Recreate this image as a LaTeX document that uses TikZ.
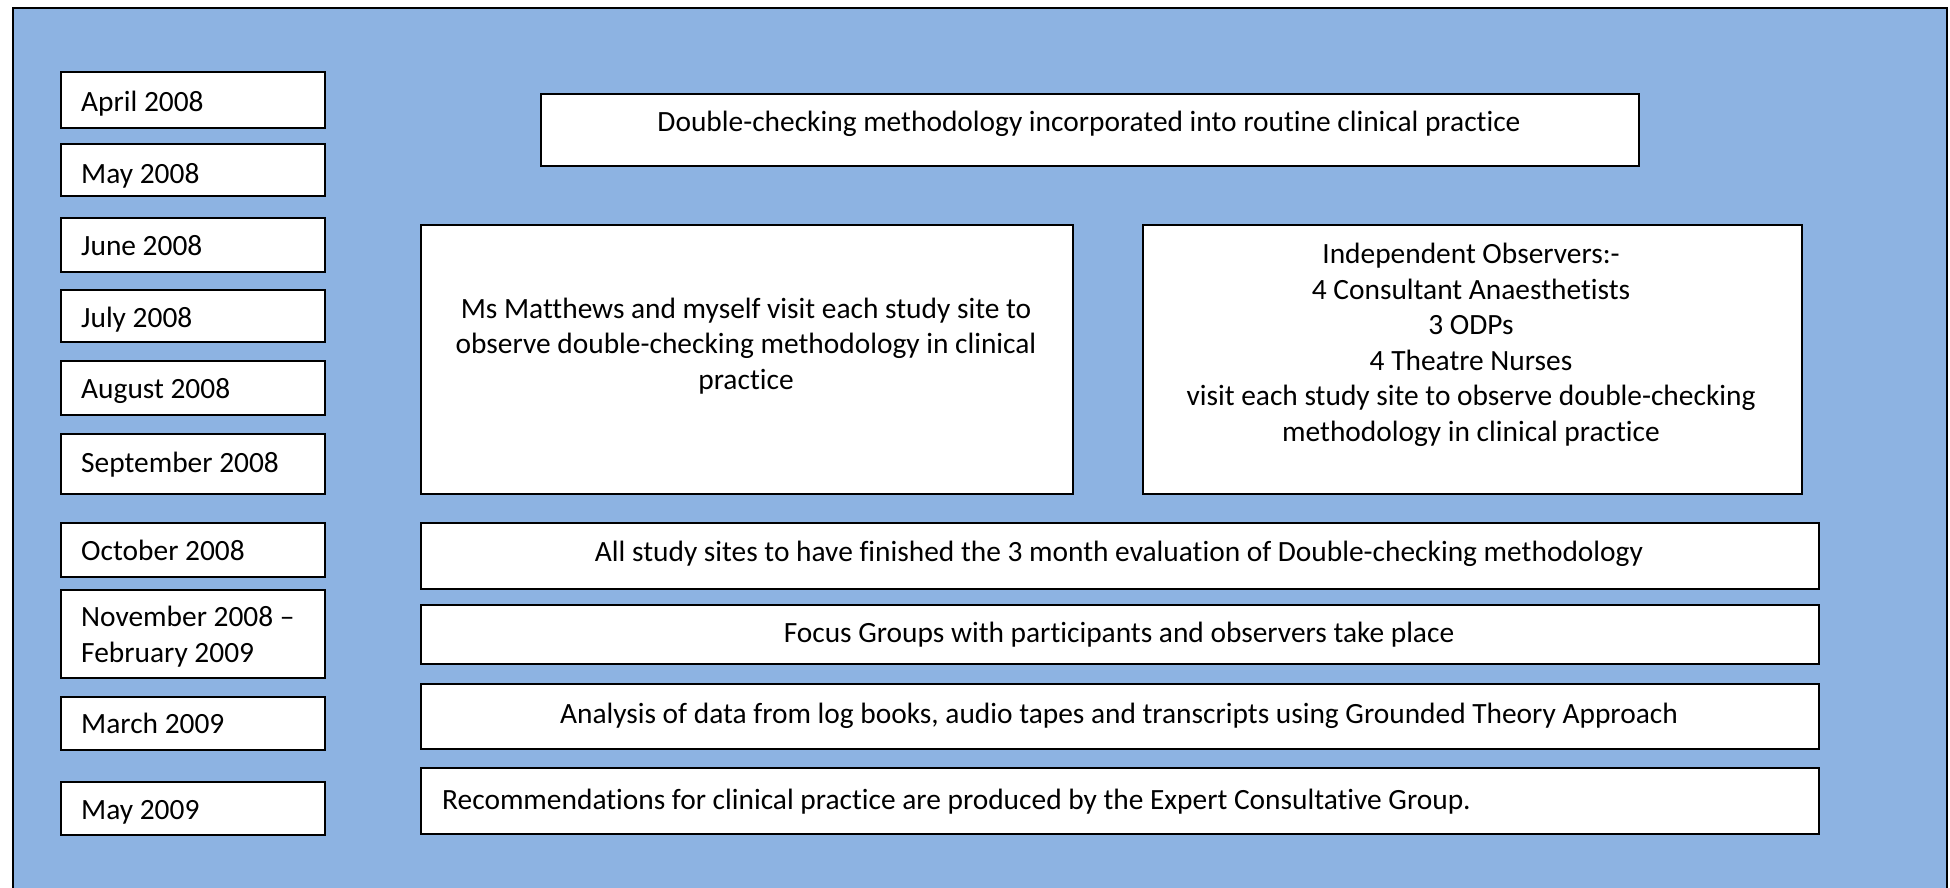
\documentclass[tikz,border=0pt]{standalone}
\usepackage{fontspec}
\setmainfont{Carlito}[Ligatures=NoCommon]
\definecolor{bgblue}{HTML}{8DB3E2}
\begin{document}
\begin{tikzpicture}[x=1pt,y=-1pt,
  box/.style={draw=black, line width=1.6pt, fill=white, inner sep=0pt, anchor=north west},
  txt/.style={inner sep=0pt, font=\fontsize{29.4}{35.5}\selectfont},
  ctxt/.style={txt, align=center, anchor=base}]
\useasboundingbox (0,0) rectangle (1950,887);
\begin{scope}
\clip (0,0) rectangle (1950,887);
\node[draw=black, line width=2pt, fill=bgblue, inner sep=0pt, anchor=north west,
      minimum width=1934pt, minimum height=900pt] (frame) at (12,7) {};
\end{scope}
% date boxes
\node[box, minimum width=264pt, minimum height=56pt] (b1) at (60,71) {};
\node[box, minimum width=264pt, minimum height=52pt] (b2) at (60,143) {};
\node[box, minimum width=264pt, minimum height=54pt] (b3) at (60,217) {};
\node[box, minimum width=264pt, minimum height=52pt] (b4) at (60,289) {};
\node[box, minimum width=264pt, minimum height=54pt] (b5) at (60,360) {};
\node[box, minimum width=264pt, minimum height=60pt] (b6) at (60,433) {};
\node[box, minimum width=264pt, minimum height=54pt] (b7) at (60,522) {};
\node[box, minimum width=264pt, minimum height=88pt] (b8) at (60,589) {};
\node[box, minimum width=264pt, minimum height=53pt] (b9) at (60,696) {};
\node[box, minimum width=264pt, minimum height=53pt] (b10) at (60,781) {};
\node[txt, anchor=base west] (t1) at (81,111) {April 2008};
\node[txt, anchor=base west] (t2) at (81,183) {May 2008};
\node[txt, anchor=base west] (t3) at (81,255) {June 2008};
\node[txt, anchor=base west] (t4) at (81,327) {July 2008};
\node[txt, anchor=base west] (t5) at (81,398) {August 2008};
\node[txt, anchor=base west] (t6) at (81,472) {September 2008};
\node[txt, anchor=base west] (t7) at (81,560) {October 2008};
\node[txt, anchor=base west, align=left] (t8) at (81,662) {November 2008 –\\February 2009};
\node[txt, anchor=base west] (t9) at (81,733) {March 2009};
\node[txt, anchor=base west] (t10) at (81,819) {May 2009};
% event boxes
\node[box, minimum width=1098pt, minimum height=72pt] (e1) at (540,93) {};
\node[box, minimum width=652pt, minimum height=269pt] (e2) at (420,224) {};
\node[box, minimum width=659pt, minimum height=269pt] (e3) at (1142,224) {};
\node[box, minimum width=1398pt, minimum height=66pt] (e4) at (420,522) {};
\node[box, minimum width=1398pt, minimum height=59pt] (e5) at (420,604) {};
\node[box, minimum width=1398pt, minimum height=65pt] (e6) at (420,683) {};
\node[box, minimum width=1398pt, minimum height=66pt] (e7) at (420,767) {};
\node[ctxt] (s1) at (1089,131) {Double-checking methodology incorporated into routine clinical practice};
\node[ctxt] (s2) at (746,389) {Ms Matthews and myself visit each study site to\\observe double-checking methodology in clinical\\practice};
\node[ctxt] (s3) at (1471,441) {Independent Observers:-\\4 Consultant Anaesthetists\\3 ODPs\\4 Theatre Nurses\\visit each study site to observe double-checking\\methodology in clinical practice};
\node[ctxt] (s4) at (1119,561) {All study sites to have finished the 3 month evaluation of Double-checking methodology};
\node[ctxt] (s5) at (1119,642) {Focus Groups with participants and observers take place};
\node[ctxt] (s6) at (1119,723) {Analysis of data from log books, audio tapes and transcripts using Grounded Theory Approach};
\node[txt, anchor=base west] (s7) at (442,809) {Recommendations for clinical practice are produced by the Expert Consultative Group.};
\end{tikzpicture}
\end{document}
